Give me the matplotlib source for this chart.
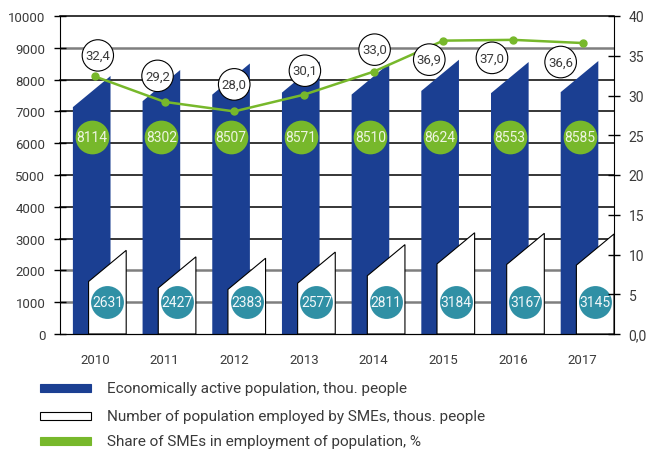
import numpy as np
import matplotlib
matplotlib.use("Agg")
import matplotlib.pyplot as plt
from matplotlib.patches import Rectangle
from matplotlib.ticker import FuncFormatter

# data
years = ["2010", "2011", "2012", "2013", "2014", "2015", "2016", "2017"]
active_population = [8114, 8302, 8507, 8571, 8510, 8624, 8553, 8585]
sme_employed = [2631, 2427, 2383, 2577, 2811, 3184, 3167, 3145]
sme_share = [32.4, 29.2, 28.0, 30.1, 33.0, 36.9, 37.0, 36.6]

legend_labels = [
    "Economically active population, thou. people",
    "Number of population employed by SMEs, thous. people",
    "Share of SMEs in employment of population, %",
]

# pixel offsets of the share bubbles from their points (dx, dy up)
share_offsets = [(3, 21), (-7, 26), (0, 27), (1, 24), (1, 22), (-14, -19), (-21, -18), (-22, -19)]

BLUE = "#1b3f92"
GREEN = "#77b82b"
TEAL = "#3090a5"
TEXT = "#3a3a3a"

plt.rcParams["font.family"] = ["Roboto", "DejaVu Sans"]

W, H = 655, 452
fig = plt.figure(figsize=(W / 100, H / 100), dpi=100)
ax = fig.add_axes([60 / W, 1 - 335 / H, (614 - 60) / W, (335 - 17) / H])
ax2 = ax.twinx()

x = np.arange(len(years))
bar_w = 0.54
slant = 980


def slanted_bar(axis, xc, h, **kw):
    left, right = xc - bar_w / 2, xc + bar_w / 2
    axis.fill([left, left, right, right], [0, h - slant, h, 0], **kw)


# horizontal grid lines
for v in range(1000, 10001, 1000):
    if v in (1000, 2000, 9000):
        ax.axhline(v, color="#7f7f7f", lw=1.8, zorder=0.5)
    else:
        ax.axhline(v, color="black", lw=1.1, zorder=0.5, clip_on=False)

for i in x:
    slanted_bar(ax, i - 0.045, active_population[i], color=BLUE, lw=0, zorder=1)
    slanted_bar(ax, i + 0.18, sme_employed[i], facecolor="white", edgecolor="black", lw=0.8, zorder=2)

# value bubbles on the bars
ax.scatter(x - 0.045, [6200] * len(x), s=590, color=GREEN, lw=0, zorder=3)
ax.scatter(x + 0.18, [1000] * len(x), s=560, color=TEAL, lw=0, zorder=3)
for i in x:
    ax.text(i - 0.045, 6200, str(active_population[i]), ha="center", va="center",
            fontsize=10, color="#eef5e2", zorder=4)
    ax.text(i + 0.18, 1000, str(sme_employed[i]), ha="center", va="center",
            fontsize=10, color="#f2f7f9", zorder=4)

# share line
ax2.plot(x, sme_share, color=GREEN, lw=1.8, marker="o", ms=5, zorder=3)
for i in x:
    dx, dy = share_offsets[i]
    ax2.annotate(f"{sme_share[i]:.1f}".replace(".", ","), xy=(i, sme_share[i]),
                 xytext=(dx * 0.72, dy * 0.72), textcoords="offset points",
                 ha="center", va="center", fontsize=9.5, color=TEXT, zorder=5,
                 bbox=dict(boxstyle="circle,pad=0.25", fc="white", ec="black", lw=0.8))

ax.set_xlim(-0.5, 7.45)
ax.set_ylim(0, 10000)
ax2.set_ylim(0, 40)

ax.set_xticks(x, years)
ax.set_yticks(range(0, 10001, 1000))
ax2.set_yticks(range(0, 41, 5))
ax2.yaxis.set_major_formatter(FuncFormatter(lambda v, pos: "0,0" if v == 0 else f"{v:.0f}"))

ax.tick_params(axis="x", length=0, pad=14, labelsize=9.5, labelcolor=TEXT)
ax.tick_params(axis="y", direction="inout", length=9, width=1, pad=6, labelsize=9.5, labelcolor=TEXT)
ax2.tick_params(axis="y", direction="inout", length=9, width=1, pad=6, labelsize=10, labelcolor=TEXT)

for a in (ax, ax2):
    a.spines["top"].set_visible(False)
ax.spines["right"].set_visible(False)
ax2.spines["left"].set_visible(False)

# manual legend below the chart
legend_colors = [(BLUE, BLUE), ("white", "black"), (GREEN, GREEN)]
for (fc, ec), label, yc in zip(legend_colors, legend_labels, [389, 417, 442]):
    fig.add_artist(Rectangle((40 / W, 1 - (yc + 4) / H), 51 / W, 8 / H, transform=fig.transFigure,
                             facecolor=fc, edgecolor=ec, lw=0.8))
    fig.text(107 / W, 1 - yc / H, label, ha="left", va="center", fontsize=11, color=TEXT)

fig.savefig("out.png", dpi=100)
